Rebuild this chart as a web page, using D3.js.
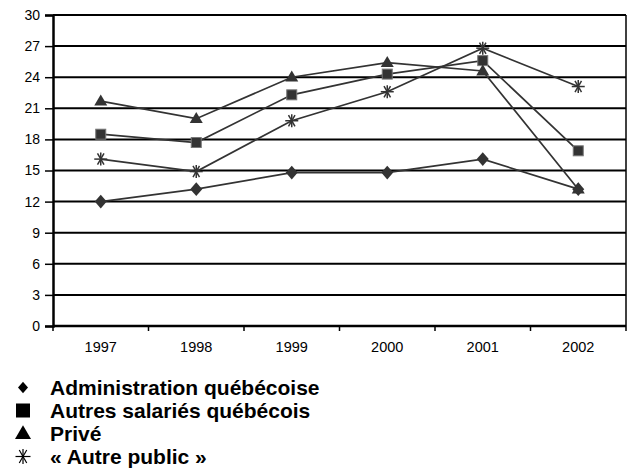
<!DOCTYPE html>
<html>
<head>
<meta charset="utf-8">
<script src="https://cdn.jsdelivr.net/npm/d3@7"></script>
<style>
  body { margin: 0; background: #fff; }
  svg text { font-family: "Liberation Sans", Arial, sans-serif; }
</style>
</head>
<body>
<div id="chart"></div>
<script>
const annees = ["1997", "1998", "1999", "2000", "2001", "2002"];
const yTicks = [0, 3, 6, 9, 12, 15, 18, 21, 24, 27, 30];

const administration = [12.0, 13.2, 14.8, 14.8, 16.1, 13.2];
const autresSalaries = [18.5, 17.7, 22.3, 24.3, 25.6, 16.9];
const prive = [21.7, 20.0, 24.0, 25.4, 24.6, 13.2];
const autrePublic = [16.1, 14.9, 19.8, 22.6, 26.8, 23.1];

const series = [
  { nom: "Administration québécoise", valeurs: administration, symbole: "diamond" },
  { nom: "Autres salariés québécois", valeurs: autresSalaries, symbole: "square" },
  { nom: "Privé", valeurs: prive, symbole: "triangle" },
  { nom: "« Autre public »", valeurs: autrePublic, symbole: "asterisk" }
];

const width = 628, height = 473;
const margin = { left: 53, right: 2, top: 15, bottom: 147 };
const couleur = "#333";

const svg = d3.select("#chart").append("svg")
  .attr("width", width).attr("height", height);

const x = d3.scaleBand().domain(annees).range([margin.left, width - margin.right]);
const y = d3.scaleLinear().domain([0, 30]).range([height - margin.bottom, margin.top]);

// grille
svg.append("g")
  .selectAll("line")
  .data(yTicks.filter(d => d > 0))
  .enter()
  .append("line")
  .attr("x1", margin.left).attr("x2", width - margin.right)
  .attr("y1", d => y(d)).attr("y2", d => y(d))
  .attr("stroke", "#000").attr("stroke-width", 2);

// bord droit
svg.append("line")
  .attr("x1", width - margin.right).attr("x2", width - margin.right)
  .attr("y1", y(30)).attr("y2", y(0))
  .attr("stroke", "#000").attr("stroke-width", 1.5);

// axe y
const yAxis = svg.append("g")
  .attr("transform", `translate(${margin.left},0)`)
  .call(d3.axisLeft(y).tickValues(yTicks).tickSize(8).tickPadding(5));
yAxis.select(".domain").attr("stroke-width", 2.5);
yAxis.selectAll(".tick line").attr("stroke-width", 1.5);
yAxis.selectAll("text").attr("font-size", 14).attr("fill", "#000");

// axe x
const bornes = annees.map(a => x(a)).concat([x.range()[1]]);
const xAxis = svg.append("g")
  .attr("transform", `translate(0,${y(0)})`);
xAxis.append("line")
  .attr("x1", margin.left).attr("x2", width - margin.right)
  .attr("stroke", "#000").attr("stroke-width", 2.5);
xAxis.selectAll(".tb")
  .data(bornes)
  .enter().append("line")
  .attr("x1", d => d).attr("x2", d => d)
  .attr("y1", 0).attr("y2", 5)
  .attr("stroke", "#000").attr("stroke-width", 1.5);
xAxis.selectAll(".lab")
  .data(annees)
  .enter().append("text")
  .attr("x", d => x(d) + x.bandwidth() / 2)
  .attr("y", 26)
  .attr("text-anchor", "middle")
  .attr("font-size", 14.5)
  .text(d => d);

const cx = (d, i) => x(annees[i]) + x.bandwidth() / 2;

const ligne = d3.line()
  .x((d, i) => cx(d, i))
  .y(d => y(d));

// taille = demi-largeur du symbole
function dessinerSymbole(g, type, taille, c, ep) {
  const r = taille;
  if (type === "asterisk") {
    [30, 90, 150].forEach(a => {
      const rad = a * Math.PI / 180;
      g.append("line")
        .attr("x1", -r * Math.sin(rad)).attr("y1", -r * Math.cos(rad))
        .attr("x2", r * Math.sin(rad)).attr("y2", r * Math.cos(rad))
        .attr("stroke", c).attr("stroke-width", ep);
    });
    g.append("line")
      .attr("x1", 0).attr("x2", 0).attr("y1", -r).attr("y2", r)
      .attr("stroke", c).attr("stroke-width", ep);
    return;
  }
  if (type === "diamond") {
    const h = r * 1.15;
    g.append("path").attr("d", `M0,${-h}L${r},0L0,${h}L${-r},0Z`).attr("fill", c);
    return;
  }
  if (type === "square") {
    g.append("rect").attr("x", -r).attr("y", -r).attr("width", 2 * r).attr("height", 2 * r)
      .attr("fill", c).attr("stroke", c === "#000" ? "none" : "#777").attr("stroke-width", 1);
    return;
  }
  const h = r * 1.7;
  g.append("path")
    .attr("d", `M0,${-h * 0.6}L${r},${h * 0.4}L${-r},${h * 0.4}Z`)
    .attr("fill", c);
}

const tailles = { diamond: 6, square: 5, triangle: 6.5, asterisk: 6.5 };

series.forEach(s => {
  svg.append("path")
    .datum(s.valeurs)
    .attr("d", ligne)
    .attr("fill", "none")
    .attr("stroke", couleur)
    .attr("stroke-width", 1.7);

  s.valeurs.forEach((v, i) => {
    const g = svg.append("g").attr("transform", `translate(${cx(v, i)},${y(v)})`);
    dessinerSymbole(g, s.symbole, tailles[s.symbole], couleur, 1.5);
  });
});

// légende
const taillesLegende = { diamond: 5, square: 7, triangle: 8, asterisk: 7.5 };
const legende = svg.append("g");
series.forEach((s, i) => {
  const ly = 395 + i * 23;
  const g = legende.append("g").attr("transform", `translate(23,${ly - 7.5})`);
  dessinerSymbole(g, s.symbole, taillesLegende[s.symbole], "#000", 1.2);
  legende.append("text")
    .attr("x", 50).attr("y", ly)
    .attr("font-size", 21).attr("font-weight", "bold")
    .text(s.nom);
});
</script>
</body>
</html>
